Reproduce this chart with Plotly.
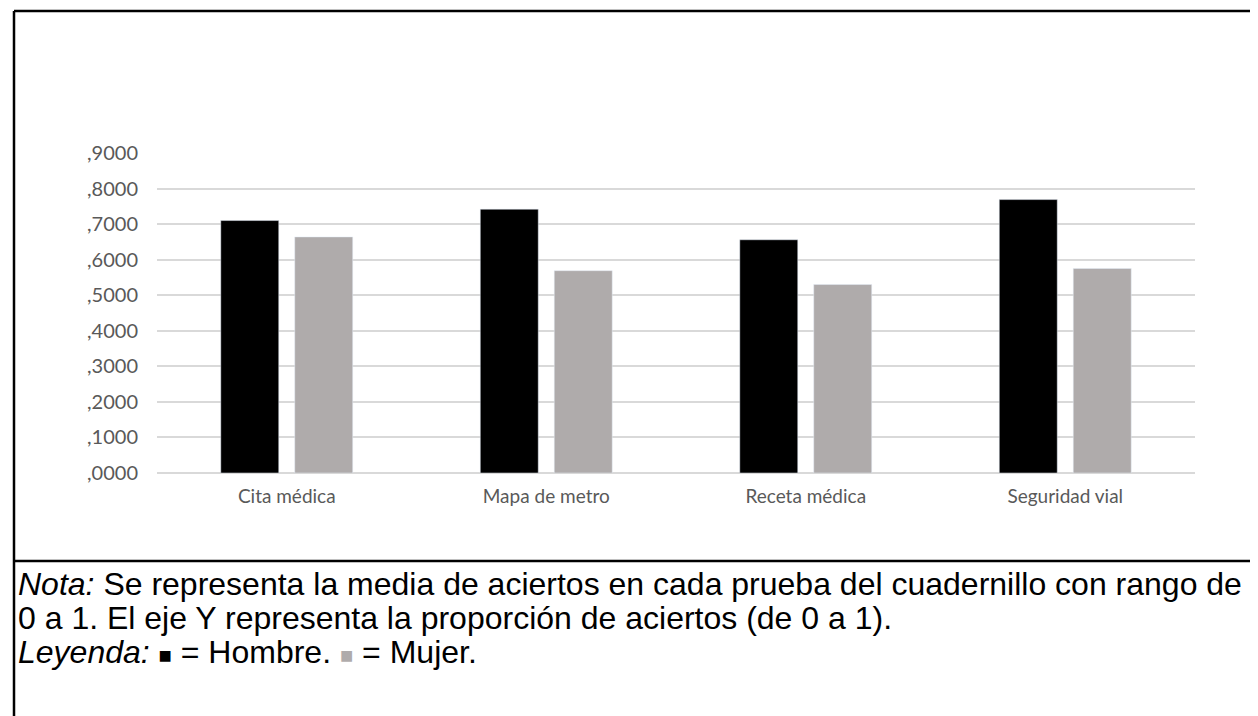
import plotly.graph_objects as go

# --- data ---
categories = ["Cita médica", "Mapa de metro", "Receta médica", "Seguridad vial"]
hombre = [0.710, 0.742, 0.656, 0.769]
mujer = [0.664, 0.569, 0.530, 0.575]
tick_vals = [0.0, 0.1, 0.2, 0.3, 0.4, 0.5, 0.6, 0.7, 0.8, 0.9]
tick_text = [",0000", ",1000", ",2000", ",3000", ",4000", ",5000", ",6000", ",7000", ",8000", ",9000"]

nota_lines = [
    "<i>Nota:</i> Se representa la media de aciertos en cada prueba del cuadernillo con rango de",
    "0 a 1. El eje Y representa la proporción de aciertos (de 0 a 1).",
    "<i>Leyenda:</i> <span style='color:#000000;font-size:22px'>■</span> = Hombre. "
    "<span style='color:#AFABAB;font-size:22px'>■</span> = Mujer.",
]

W, H = 1258, 716
PLOT_L, PLOT_R, PLOT_T, PLOT_B = 149, 1187, 145, 465


def px(x):
    return (x - PLOT_L) / (PLOT_R - PLOT_L)


def py(y):
    return (PLOT_B - y) / (PLOT_B - PLOT_T)


fig = go.Figure()
fig.add_trace(go.Bar(x=categories, y=hombre, name="Hombre", marker_color="#000000"))
fig.add_trace(go.Bar(x=categories, y=mujer, name="Mujer", marker_color="#AFABAB"))

fig.update_layout(
    width=W,
    height=H,
    margin={"l": PLOT_L, "r": W - PLOT_R, "t": PLOT_T, "b": H - PLOT_B},
    paper_bgcolor="white",
    plot_bgcolor="white",
    showlegend=False,
    barmode="group",
    bargap=0.43,
    bargroupgap=0.216,
    font={"family": "Lato", "size": 19, "color": "#595959"},
)
fig.update_xaxes(
    showgrid=False,
    showline=False,
    zeroline=False,
    ticks="",
    ticklabelstandoff=10,
    tickfont={"family": "Lato", "size": 19, "color": "#595959"},
)
fig.update_yaxes(
    range=[0, 0.9],
    tickvals=tick_vals,
    ticktext=tick_text,
    showgrid=True,
    gridcolor="#D9D9D9",
    gridwidth=1.5,
    zeroline=True,
    zerolinecolor="#D9D9D9",
    zerolinewidth=1.5,
    showline=False,
    ticks="",
    ticklabelstandoff=18,
    tickfont={"family": "Lato", "size": 20, "color": "#595959"},
)

# frame of the figure box and the note separator
border = {"color": "black", "width": 2.5}
fig.add_shape(type="line", xref="paper", yref="paper", x0=px(6), x1=px(1270), y0=py(3), y1=py(3), line=border)
fig.add_shape(type="line", xref="paper", yref="paper", x0=px(6), x1=px(6), y0=py(3), y1=py(730), line=border)
fig.add_shape(type="line", xref="paper", yref="paper", x0=px(6), x1=px(1270), y0=py(553), y1=py(553), line=border)

for i, line in enumerate(nota_lines):
    fig.add_annotation(
        text=line,
        xref="paper",
        yref="paper",
        x=px(8),
        y=py(576 + 34 * i),
        xanchor="left",
        yanchor="middle",
        showarrow=False,
        font={"family": "Liberation Sans", "size": 32, "color": "black"},
    )

fig.write_html("out.html")
